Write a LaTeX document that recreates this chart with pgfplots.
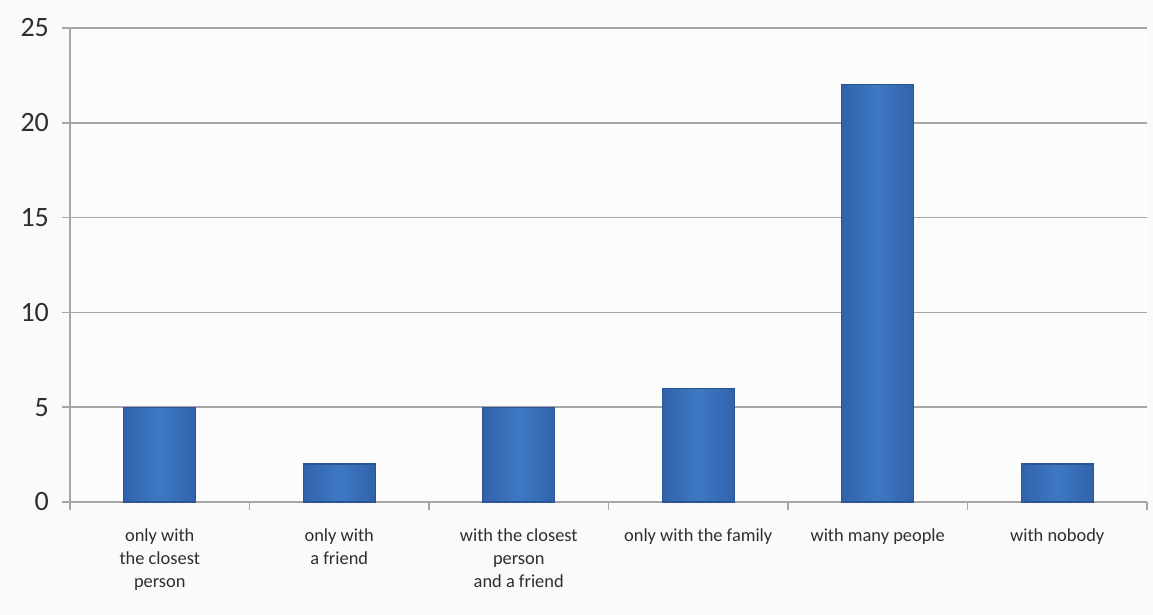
\documentclass[border=0pt]{standalone}
\usepackage{pgfplots}
\pgfplotsset{compat=1.18}
\usepackage{fontspec}
\setmainfont{Carlito}
\definecolor{barmid}{HTML}{3E78C4}
\definecolor{baredge}{HTML}{3163AA}
\definecolor{barline}{HTML}{2A5592}
\definecolor{gridc}{HTML}{A6A6A6}
\definecolor{txt}{HTML}{2E2E2E}
\begin{document}
\begin{tikzpicture}
\useasboundingbox[fill=white!98!black] (-35pt,-56.5pt) rectangle (541.5pt,251pt);
\begin{axis}[
  scale only axis,
  width=538.5pt, height=237pt,
  xmin=-0.5, xmax=5.5, ymin=0, ymax=25,
  ytick={0,5,...,25},
  axis x line*=bottom, axis y line*=left,
  axis line style={gridc, line width=0.8pt},
  ymajorgrids, grid style={gridc, line width=0.8pt},
  xtick={0,...,5},
  xticklabels={{only with\\the closest\\person},{only with\\a friend},{with the closest\\person\\and a friend},{only with the family},{with many people},{with nobody}},
  xticklabel style={align=center, font=\fontsize{9.2}{11.5}\selectfont, text=txt, anchor=north, yshift=-6pt},
  major x tick style={draw=none},
  minor xtick={-0.5,0.5,...,5.5},
  minor x tick style={gridc, line width=0.8pt},
  xtick align=outside, ytick align=outside,
  minor tick length=4pt, major tick length=4pt,
  y tick style={gridc, line width=0.8pt},
  yticklabel style={font=\fontsize{14}{16}\selectfont, text=txt, xshift=-3pt},
  /pgf/number format/assume math mode=true,
  axis background/.style={fill=white!99!black},
  clip=false,
  mybar/.style={ybar, bar shift=0pt, bar width=36pt, draw=barline, line width=0.6pt,
    left color=baredge, right color=baredge, middle color=barmid, mark=none},
]
\addplot[mybar] coordinates {(0,5)};
\addplot[mybar] coordinates {(1,2)};
\addplot[mybar] coordinates {(2,5)};
\addplot[mybar] coordinates {(3,6)};
\addplot[mybar] coordinates {(4,22)};
\addplot[mybar] coordinates {(5,2)};
\end{axis}
\end{tikzpicture}
\end{document}
